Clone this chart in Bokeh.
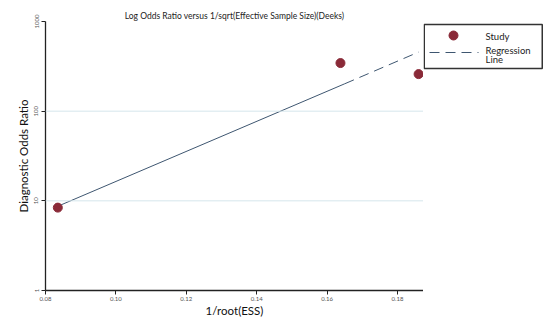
from bokeh.plotting import figure
from bokeh.layouts import row
from bokeh.models import FixedTicker, Range1d, Span
from bokeh.core.properties import value
from bokeh.embed import file_html
from bokeh.resources import INLINE

# data
study_x = [0.0835, 0.1638, 0.186]
study_y = [8.4, 344, 259]
reg_solid_x = [0.0835, 0.165]
reg_solid_y = [8.7, 202]
reg_dash_x = [0.165, 0.186]
reg_dash_y = [202, 456]
x_ticks = [0.08, 0.10, 0.12, 0.14, 0.16, 0.18]
y_ticks = [1, 10, 100, 1000]
y_grid = [10, 100]
legend_labels = ["Study", "Regression", "Line"]

FONT = "Lato"
PT_COLOR = "#8a2a38"
LN_COLOR = "#3e5670"

p = figure(frame_width=378, frame_height=269, output_backend="svg", toolbar_location=None,
           y_axis_type="log",
           x_range=Range1d(0.08, 0.18739), y_range=Range1d(1, 1000),
           min_border_left=45, min_border_right=0, min_border_top=21, min_border_bottom=24)

p.title.text = "Log Odds Ratio versus 1/sqrt(Effective Sample Size)(Deeks)"
p.title.align = "center"
p.title.text_font = FONT
p.title.text_font_size = "8.5px"
p.title.text_font_style = "normal"
p.title.text_color = "#222222"
p.title.offset = 0
p.title.standoff = 2

p.outline_line_color = None
p.xgrid.visible = False
p.ygrid.visible = False

for g in y_grid:
    p.add_layout(Span(location=g, dimension="width", line_color="#d5e6ec", line_width=1))

p.xaxis.ticker = FixedTicker(ticks=x_ticks)
p.xaxis.major_label_overrides = {t: f"{t:.2f}" for t in x_ticks}
p.yaxis.ticker = FixedTicker(ticks=y_ticks)
p.yaxis.major_label_overrides = {t: str(t) for t in y_ticks}
p.yaxis.major_label_orientation = "vertical"
for ax in (p.xaxis, p.yaxis):
    ax.minor_tick_line_color = None
    ax.major_tick_in = 0
    ax.major_tick_out = 4
    ax.axis_line_color = "#222222"
    ax.axis_line_width = 1.3
    ax.major_tick_line_color = "#222222"
    ax.major_label_text_font = FONT
    ax.major_label_text_font_size = "6px"
    ax.major_label_text_color = "#555555"
    ax.axis_label_text_font = FONT
    ax.axis_label_text_font_size = "11.5px"
    ax.axis_label_text_font_style = "normal"
    ax.axis_label_text_color = "#111111"

p.xaxis.major_label_standoff = 2
p.yaxis.major_label_standoff = 3
p.xaxis.axis_label = "1/root(ESS)"
p.xaxis.axis_label_standoff = 0
p.yaxis.axis_label = "Diagnostic Odds Ratio"
p.yaxis.axis_label_standoff = 2

p.line(reg_solid_x, reg_solid_y, line_color=LN_COLOR, line_width=1)
p.line(reg_dash_x, reg_dash_y, line_color=LN_COLOR, line_width=1, line_dash="10 6")
p.scatter(study_x, study_y, size=9, fill_color=PT_COLOR, line_color=PT_COLOR)

# legend panel drawn in pixel coordinates (y measured downward from its top)
LW, LH = 120, 269
leg = figure(frame_width=LW, frame_height=LH, output_backend="svg", toolbar_location=None,
             x_range=Range1d(0, LW), y_range=Range1d(LH, 0),
             x_axis_location=None, y_axis_location=None,
             min_border_left=0, min_border_right=0, min_border_top=0, min_border_bottom=0)
leg.outline_line_color = None
leg.xgrid.visible = False
leg.ygrid.visible = False
leg.quad(left=[0.75], right=[118.75], top=[3], bottom=[47], fill_color="white",
         line_color="#333333", line_width=1.5)
leg.scatter([30], [14], size=9, fill_color=PT_COLOR, line_color=PT_COLOR)
leg.line([6, 55], [31, 31], line_color=LN_COLOR, line_width=1, line_dash="10 6")
leg.text([62, 62, 62], [14.5, 28.5, 37.5], text=legend_labels, text_baseline="middle",
         text_align="left", text_font=value(FONT), text_font_size="9.5px",
         text_color="#222222")

layout = row(p, leg)
open("out.html", "w").write(file_html(layout, INLINE))
